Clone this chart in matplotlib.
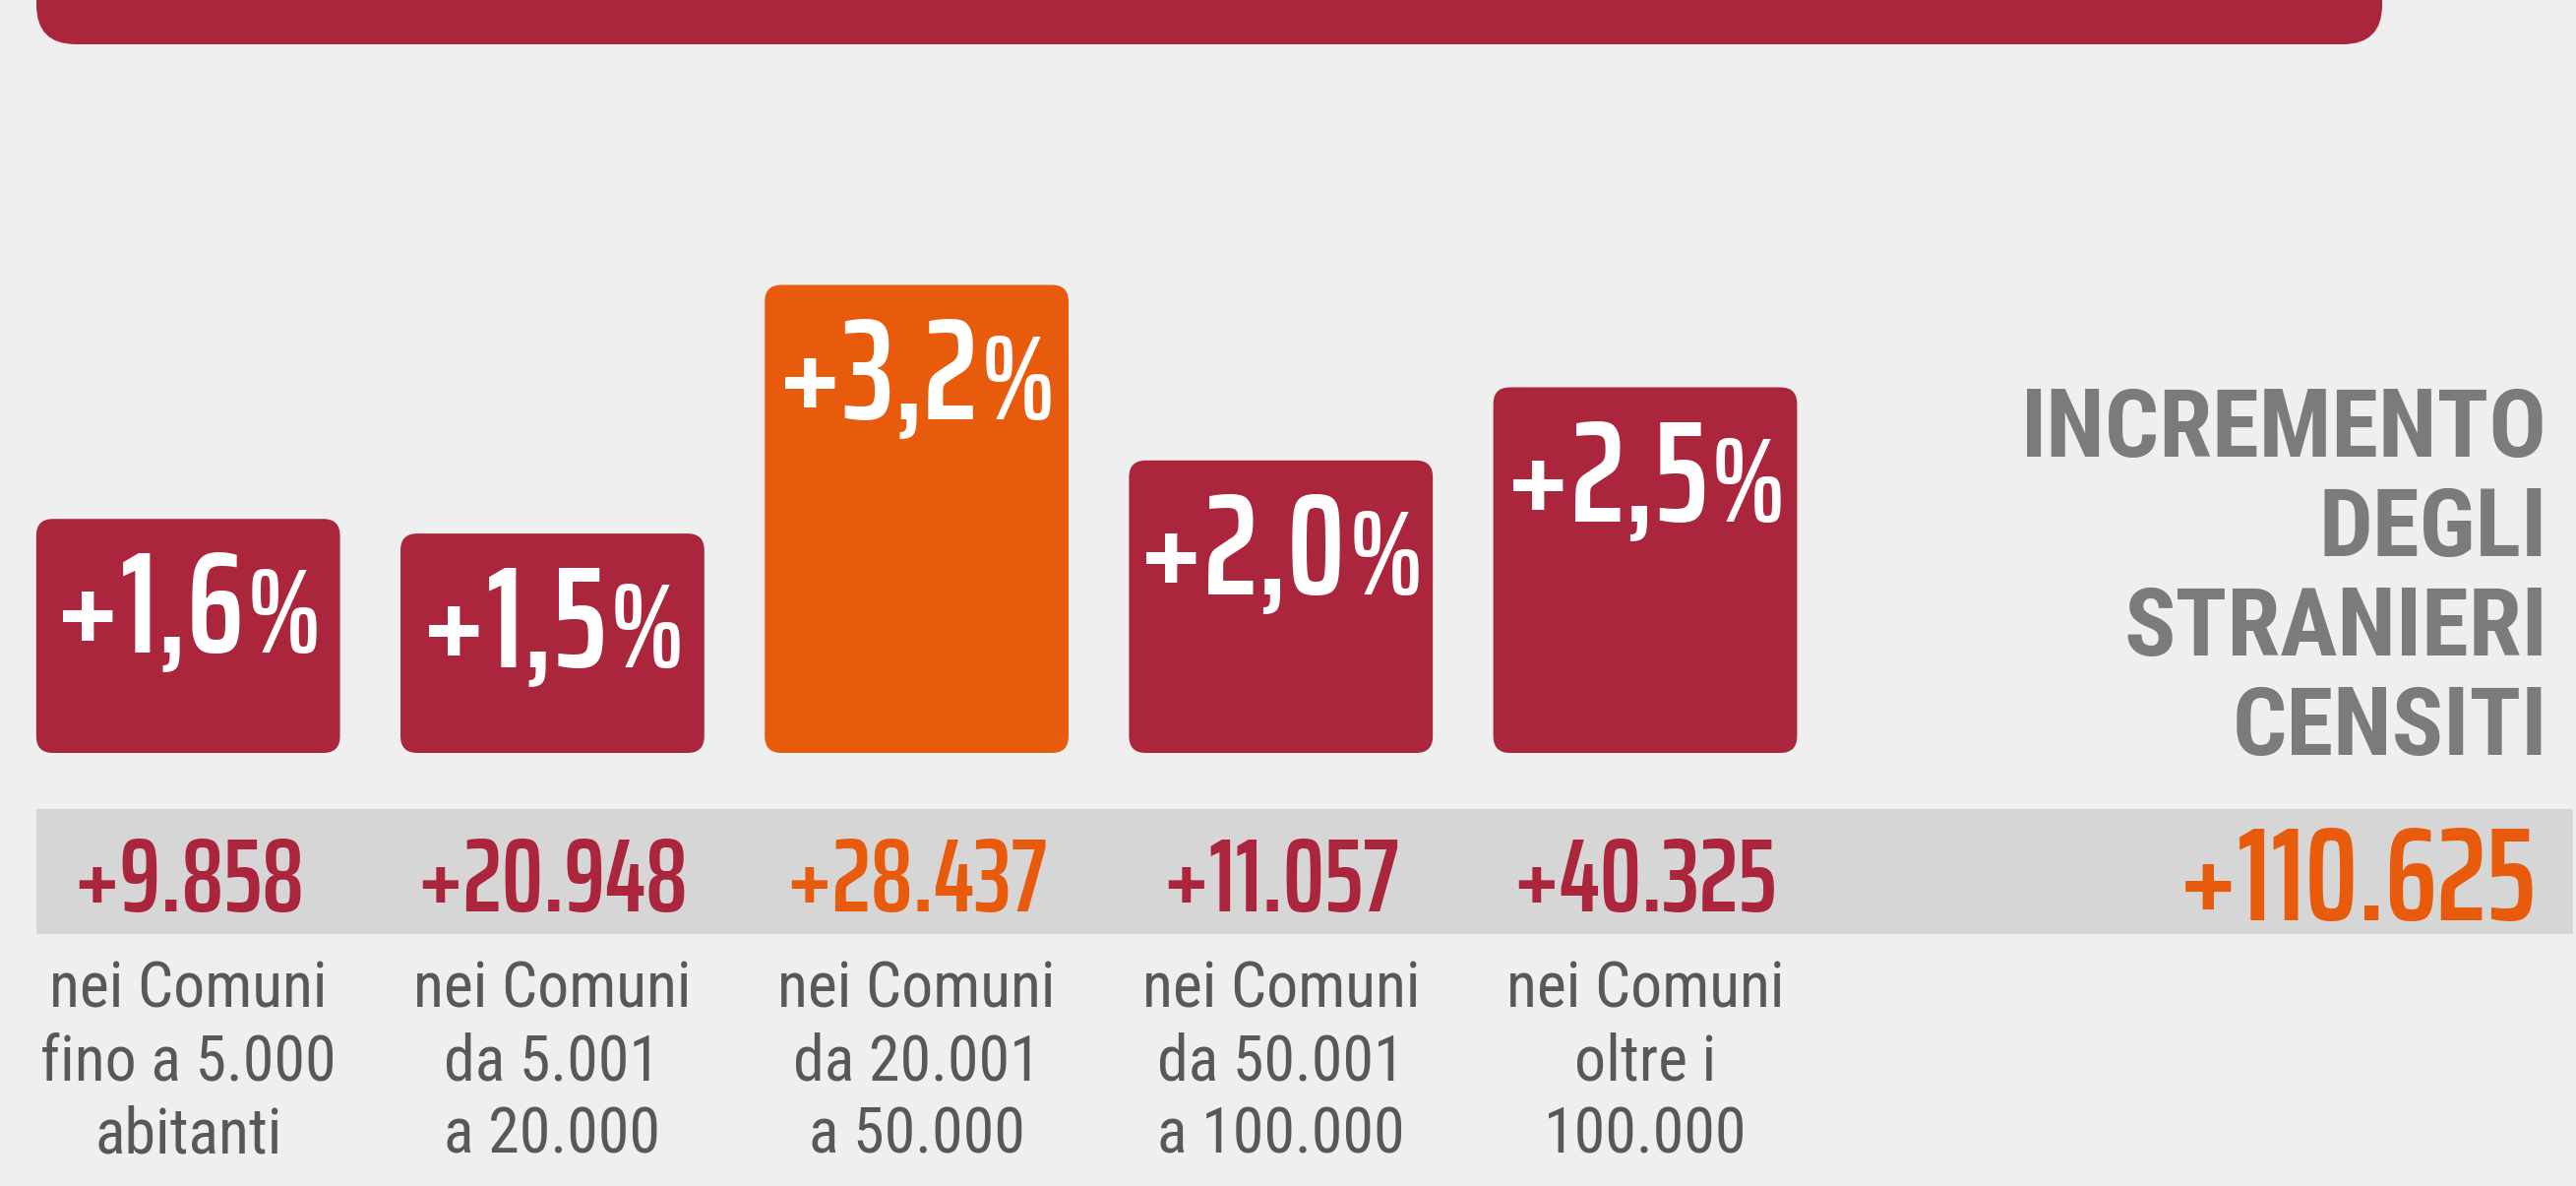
import matplotlib
matplotlib.use("Agg")
import matplotlib.pyplot as plt
from matplotlib.patches import FancyBboxPatch, Rectangle
from matplotlib.transforms import blended_transform_factory

# dati
fasce = ["fino a 5.000", "5.001-20.000", "20.001-50.000", "50.001-100.000", "oltre 100.000"]
incremento_pct = [1.6, 1.5, 3.2, 2.0, 2.5]
etichette_pct = ["+1,6", "+1,5", "+3,2", "+2,0", "+2,5"]
incremento_ass = ["+9.858", "+20.948", "+28.437", "+11.057", "+40.325"]
descrizioni = [
    ["nei Comuni", "fino a 5.000", "abitanti"],
    ["nei Comuni", "da 5.001", "a 20.000"],
    ["nei Comuni", "da 20.001", "a 50.000"],
    ["nei Comuni", "da 50.001", "a 100.000"],
    ["nei Comuni", "oltre i", "100.000"],
]
totale = "+110.625"
titolo = ["INCREMENTO", "DEGLI", "STRANIERI", "CENSITI"]
evidenziato = 2

ROSSO = "#AB263C"
ARANCIO = "#E95B0C"
GRIGIO_T = "#7B7B7B"
GRIGIO_D = "#58585A"
SFONDO = "#EFEFEF"
FASCIA = "#D6D6D6"
NUMERI = ["Saira ExtraCondensed", "Barlow Condensed", "DejaVu Sans"]
TESTO = ["Roboto Condensed", "Archivo Narrow", "DejaVu Sans"]

W, H = 2618, 1205
fig = plt.figure(figsize=(W / 100, H / 100), dpi=100)
fig.patch.set_facecolor(SFONDO)

# asse decorativo in pixel
deco = fig.add_axes([0, 0, 1, 1], zorder=0)
deco.set_xlim(0, W)
deco.set_ylim(H, 0)
deco.axis("off")

# banda rossa in alto
deco.add_patch(FancyBboxPatch((37, -120), 2384, 165,
                              boxstyle="round,pad=0,rounding_size=40",
                              fc=ROSSO, ec="none"))
# fascia grigia
deco.add_patch(Rectangle((37, 822), 2578, 127, fc=FASCIA, ec="none"))

# asse principale (valori)
ax = fig.add_axes([0, 0, 1, 1], zorder=1)
ax.patch.set_alpha(0)
px_x = 370.2   # pixel per categoria
px_y = 148.6   # pixel per punto percentuale
ax.set_xlim(-191.2 / px_x, (W - 191.2) / px_x)
ax.set_ylim(-440 / px_y, (H - 440) / px_y)
ax.axis("off")

colori = [ARANCIO if i == evidenziato else ROSSO for i in range(len(fasce))]
barre = ax.bar(range(len(fasce)), incremento_pct, width=0.834, color=colori)
r = 17 / px_x
for b, c in zip(barre, colori):
    b.set_visible(False)
    ax.add_patch(FancyBboxPatch((b.get_x(), b.get_y()), b.get_width(), b.get_height(),
                                boxstyle=f"round,pad=0,rounding_size={r}",
                                mutation_aspect=px_x / px_y, fc=c, ec="none"))

# etichette percentuali dentro le barre
coppie = []
for i, (v, lab) in enumerate(zip(incremento_pct, etichette_pct)):
    tn = ax.annotate(lab, (i, v), xytext=(0, -98), textcoords="offset points",
                     ha="right", va="baseline", color="white", fontsize=106,
                     fontweight=600, family=NUMERI)
    tp = ax.annotate("%", (i, v), xytext=(0, -98), textcoords="offset points",
                     ha="left", va="baseline", color="white", fontsize=88,
                     fontweight=600, family=NUMERI)
    coppie.append((tn, tp))

mix = blended_transform_factory(ax.transData, deco.transData)
for i, (n, righe) in enumerate(zip(incremento_ass, descrizioni)):
    ax.text(i, 926, n, transform=mix, ha="center", va="baseline",
            color=colori[i], fontsize=76, fontweight=600, family=NUMERI)
    for riga, yb in zip(righe, [1023, 1097, 1172]):
        ax.text(i, yb, riga, transform=mix, ha="center", va="baseline",
                color=GRIGIO_D, fontsize=46, fontweight=400, family=TESTO)

# titolo a destra
for riga, yb in zip(titolo, [464, 565.5, 666, 767]):
    deco.text(2589, yb, riga, ha="right", va="baseline", color=GRIGIO_T,
              fontsize=70, fontweight="bold", family=TESTO)
deco.text(2578, 935, totale, ha="right", va="baseline", color=ARANCIO,
          fontsize=97, fontweight=600, family=NUMERI)

# centra numero + "%" nella barra
fig.canvas.draw()
rend = fig.canvas.get_renderer()
gap = 3
for tn, tp in coppie:
    w1 = tn.get_window_extent(rend).width
    w2 = tp.get_window_extent(rend).width
    dx = (w1 - w2 - gap) / 2
    tn.xyann = (dx * 0.72, tn.xyann[1])
    tp.xyann = ((dx + gap) * 0.72, tp.xyann[1])

fig.savefig("out.png", dpi=100, facecolor=fig.get_facecolor())
